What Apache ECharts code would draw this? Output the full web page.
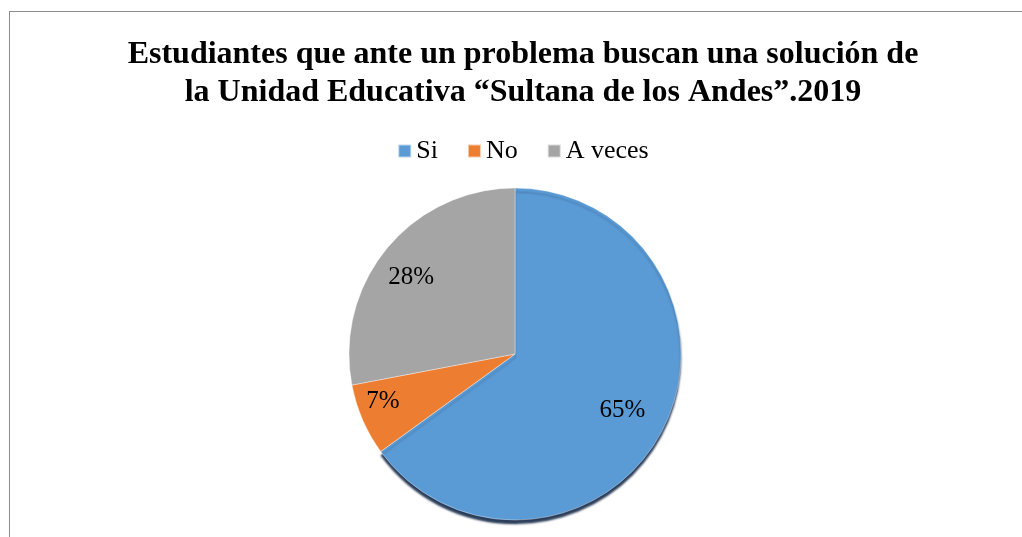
<!DOCTYPE html>
<html>
<head>
<meta charset="utf-8">
<script src="https://cdn.jsdelivr.net/npm/echarts@6/dist/echarts.min.js"></script>
<style>
  html, body { margin: 0; padding: 0; background: #fff; overflow: hidden; }
  #frame {
    position: absolute; left: 9px; top: 11px;
    width: 1026px; height: 540px;
    border-left: 1px solid #8c8c8c; border-top: 1px solid #8c8c8c;
  }
  #chart-container { width: 1026px; height: 540px; }
</style>
</head>
<body>
<div id="frame"><div id="chart-container"></div></div>
<script>
// datos del grafico
const categorias = ['Si', 'No', 'A veces'];
const porcentajes = [65, 7, 28];
const colores = ['#5B9BD5', '#ED7D31', '#A5A5A5'];
const titulo = 'Estudiantes que ante un problema buscan una solución de\nla Unidad Educativa “Sultana de los Andes”.2019';

var dom = document.getElementById('chart-container');
var myChart = echarts.init(dom);

var centro = [505, 342];
var radio = 166;
var fuente = 'Liberation Serif, Times New Roman, serif';
// pequeños ajustes [dx, dy] de las etiquetas (como las coloca Excel)
var ajusteEtiqueta = [[-3, 0], [0, -10], [7, 15]];

function datos() {
  return categorias.map(function (c, i) {
    var item = { name: c, value: porcentajes[i], itemStyle: { color: colores[i] } };
    if (i === 0) {
      item.itemStyle.shadowColor = 'rgba(20,40,70,0.9)';
      item.itemStyle.shadowOffsetY = 4;
      item.itemStyle.shadowBlur = 2;
    }
    return item;
  });
}

function textoEtiqueta(i) {
  var dx = ajusteEtiqueta[i][0], dy = ajusteEtiqueta[i][1];
  var linea = (dx > 0 ? '{w| }' : '') + '{v|' + porcentajes[i] + '%}' + (dx < 0 ? '{w| }' : '');
  if (dy > 0) return '{h| }\n' + linea;
  if (dy < 0) return linea + '\n{h| }';
  return linea;
}

// capa de etiquetas (transparente), la etiqueta cae en el medio del anillo
function capaEtiquetas(r0, mostrar) {
  return {
    type: 'pie',
    center: centro,
    radius: [r0, radio],
    startAngle: 90,
    silent: true,
    legendHoverLink: false,
    itemStyle: { color: 'rgba(0,0,0,0)' },
    emphasis: { disabled: true },
    labelLine: { show: false },
    data: categorias.map(function (c, i) {
      var dx = Math.abs(ajusteEtiqueta[i][0]), dy = Math.abs(ajusteEtiqueta[i][1]);
      return {
        name: c + ' ',
        value: porcentajes[i],
        label: {
          show: mostrar.indexOf(i) >= 0,
          position: 'inside',
          formatter: textoEtiqueta(i),
          rich: {
            v: { color: '#000', fontSize: 25, fontFamily: fuente, lineHeight: 28 },
            w: { fontSize: 1, width: 2 * dx },
            h: { fontSize: 1, lineHeight: 2 * dy }
          }
        }
      };
    })
  };
}

var option = {
  animation: false,
  title: {
    text: titulo,
    left: 'center',
    top: 19,
    textStyle: {
      color: '#000',
      fontSize: 32,
      fontWeight: 'bold',
      fontFamily: fuente,
      lineHeight: 38
    }
  },
  legend: {
    top: 121,
    left: 'center',
    data: categorias,
    icon: 'rect',
    itemWidth: 13,
    itemHeight: 13,
    itemGap: 29,
    textStyle: { color: '#000', fontSize: 26, fontFamily: fuente }
  },
  series: [
    {
      type: 'pie',
      center: centro,
      radius: radio,
      startAngle: 90,
      label: { show: false },
      labelLine: { show: false },
      itemStyle: { borderColor: 'rgba(255,255,255,0.6)', borderWidth: 0.6 },
      emphasis: { disabled: true },
      data: datos()
    },
    capaEtiquetas(76, [0]),
    capaEtiquetas(116, [1, 2])
  ]
};

myChart.setOption(option);
</script>
</body>
</html>
